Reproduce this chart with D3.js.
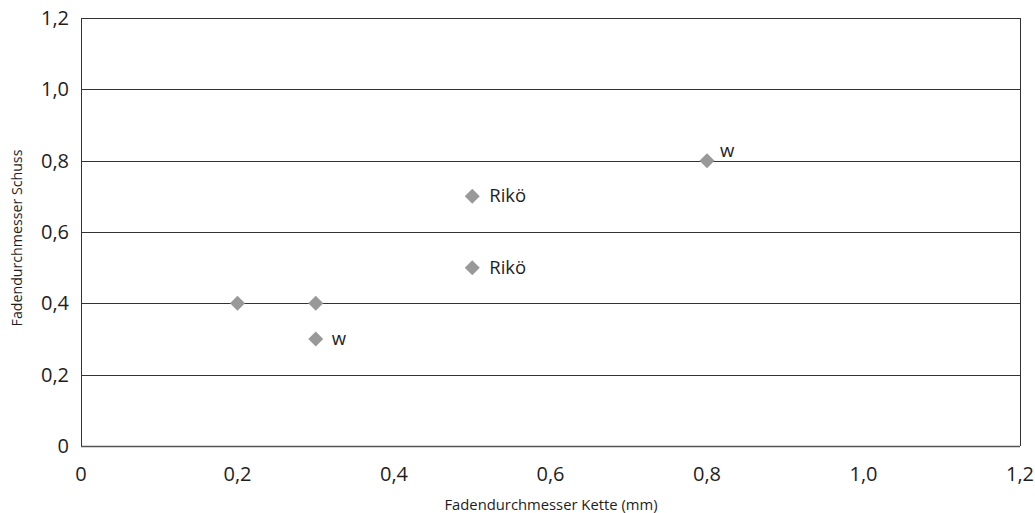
<!DOCTYPE html>
<html><head><meta charset="utf-8">
<script src="https://cdn.jsdelivr.net/npm/d3@7"></script>
<style>body{margin:0;background:#fff}svg text{font-family:"Open Sans","Noto Sans",sans-serif;fill:#1e1e1e}</style>
</head><body><svg id="c" width="1035" height="513"></svg>
<script>
const xValues = [0.2, 0.3, 0.3, 0.5, 0.5, 0.8];
const yValues = [0.4, 0.4, 0.3, 0.5, 0.7, 0.8];
const pointLabels = ["", "", "w", "Rikö", "Rikö", "w"];
const tickValues = [0, 0.2, 0.4, 0.6, 0.8, 1.0, 1.2];
const xTitle = "Fadendurchmesser Kette (mm)";
const yTitle = "Fadendurchmesser Schuss";

const svg = d3.select("#c");
const m = {l:81, r:1020, t:18, b:446};
const x = d3.scaleLinear().domain([0,1.2]).range([m.l, m.r]);
const y = d3.scaleLinear().domain([0,1.2]).range([m.b, m.t]);
const fmt = v => v === 0 ? "0" : d3.format(".1f")(v).replace(".", ",");

// gridlines
svg.append("g").selectAll("line").data(tickValues.filter(v=>v>0)).join("line")
  .attr("x1", m.l).attr("x2", m.r).attr("y1", d=>Math.round(y(d))+0.5).attr("y2", d=>Math.round(y(d))+0.5)
  .attr("stroke", "#333").attr("stroke-width", 1);
// axes lines
svg.append("line").attr("x1", m.l+0.5).attr("x2", m.l+0.5).attr("y1", m.t).attr("y2", m.b).attr("stroke","#333");
svg.append("line").attr("x1", m.r+0.5).attr("x2", m.r+0.5).attr("y1", m.t).attr("y2", m.b).attr("stroke","#333");
svg.append("line").attr("x1", m.l).attr("x2", m.r).attr("y1", m.b+0.5).attr("y2", m.b+0.5).attr("stroke","#555").attr("stroke-width",1.5);

// y tick labels
svg.append("g").selectAll("text").data(tickValues).join("text")
  .attr("x", 69).attr("y", d=>y(d)+7).attr("text-anchor","end").attr("font-size", 20).text(fmt);
// x tick labels
svg.append("g").selectAll("text").data(tickValues).join("text")
  .attr("x", d=>x(d)).attr("y", 481).attr("text-anchor","middle").attr("font-size", 20).text(fmt);

// titles
svg.append("text").attr("x", 551).attr("y", 510).attr("text-anchor","middle").attr("font-size", 14.8).text(xTitle);
svg.append("text").attr("transform", `translate(22,238) rotate(-90)`).attr("text-anchor","middle").attr("font-size", 14.2).text(yTitle);

// points
const pts = xValues.map((v,i)=>({x:v, y:yValues[i], label:pointLabels[i]}));
const h = 7.5;
const diamond = `M0,${-h}L${h},0L0,${h}L${-h},0Z`;
svg.append("g").selectAll("path").data(pts).join("path")
  .attr("d", diamond).attr("transform", d=>`translate(${x(d.x)},${y(d.y)})`).attr("fill", "#999");
svg.append("g").selectAll("text").data(pts.filter(d=>d.label)).join("text")
  .attr("x", d=>x(d.x) + (d.label==="w" ? (d.y===0.8 ? 13 : 16) : 17))
  .attr("y", d=>y(d.y) + (d.label==="w" && d.y===0.8 ? -4 : 6))
  .attr("font-size", 18.5).text(d=>d.label);
</script></body></html>
